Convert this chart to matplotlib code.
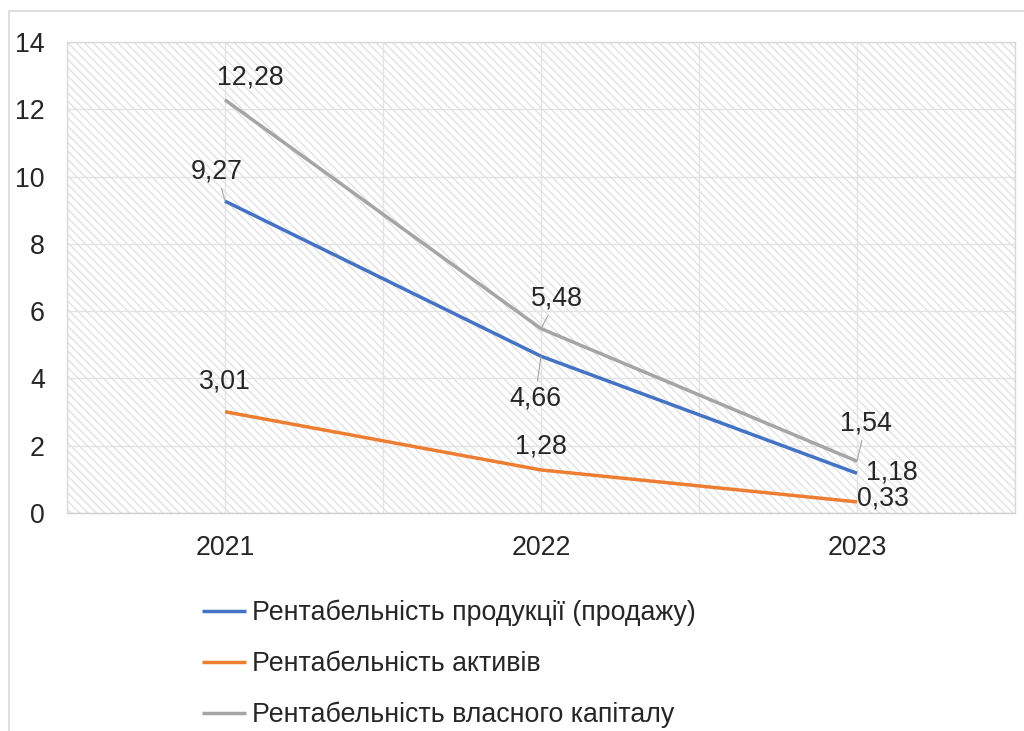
import matplotlib
matplotlib.use("Agg")
import matplotlib.pyplot as plt
from matplotlib.patches import Rectangle

plt.rcParams['font.family'] = ['Liberation Sans', 'DejaVu Sans']

years = ['2021', '2022', '2023']
sales = [9.27, 4.66, 1.18]
assets = [3.01, 1.28, 0.33]
equity = [12.28, 5.48, 1.54]
names = ['Рентабельність продукції (продажу)',
         'Рентабельність активів',
         'Рентабельність власного капіталу']
colors = ['#4472C4', '#ED7D31', '#A5A5A5']
yticks = [0, 2, 4, 6, 8, 10, 12, 14]

W, H = 1024, 731
fig = plt.figure(figsize=(W / 100, H / 100), dpi=100)
txt = '#262626'
grid = '#d9d9d9'
fs = 19.3

# outer chart border
fig.patches.append(Rectangle((9 / W, -0.05), 1.2, (H - 11) / H + 0.05,
                             transform=fig.transFigure, fill=False,
                             edgecolor=grid, lw=1.2))

ax = fig.add_axes([67 / W, (H - 513) / H, (1015 - 67) / W, (513 - 42) / H])
ax.set_xlim(-0.5, 2.5)
ax.set_ylim(0, 14)

plt.rcParams['hatch.color'] = '#dcdcdc'
plt.rcParams['hatch.linewidth'] = 0.8
ax.add_patch(Rectangle((0, 0), 1, 1, transform=ax.transAxes, facecolor='white',
                       edgecolor='#dcdcdc', hatch='\\\\\\\\', lw=0, zorder=0))

for y in yticks:
    ax.axhline(y, color='#e3e3e3', lw=1.0, zorder=1)
for xv in [-0.5, 0, 0.5, 1, 1.5, 2, 2.5]:
    ax.axvline(xv, color='#e3e3e3', lw=1.0, zorder=1)

xs = list(range(len(years)))
series = [sales, assets, equity]
lines = []
for vals, name, c in zip(series, names, colors):
    ln, = ax.plot(xs, vals, color=c, lw=2.5, label=name, zorder=3,
                  solid_capstyle='butt')
    lines.append(ln)

def fmt(v):
    return f'{v:.2f}'.replace('.', ',')

# (series index, point index, dx px, dy px, leader)
labels = [
    (2, 0, 25, 22, False),
    (0, 0, -8, 30, True),
    (2, 1, 16, 30, True),
    (0, 1, -6, -42, True),
    (1, 0, 0, 30, False),
    (1, 1, 0, 23, False),
    (2, 2, 9, 38, True),
    (0, 2, 35, 1, False),
    (1, 2, 26, 3, False),
]
for si, pi, dx, dy, lead in labels:
    v = series[si][pi]
    kw = {}
    if lead:
        kw['arrowprops'] = dict(arrowstyle='-', color='#a6a6a6', lw=0.8,
                                shrinkA=1, shrinkB=0)
    ax.annotate(fmt(v), (pi, v), xytext=(dx, dy), textcoords='offset pixels',
                ha='center', va='center', fontsize=fs, color=txt, zorder=5, **kw)

ax.set_xticks(xs)
ax.set_xticklabels(years)
ax.set_yticks(yticks)
ax.tick_params(axis='both', length=0, labelsize=fs, colors=txt)
ax.tick_params(axis='y', pad=16)
ax.tick_params(axis='x', pad=16)
for s in ax.spines.values():
    s.set_color(grid)
    s.set_linewidth(1.0)
ax.spines['bottom'].set_color('#d0d0d0')

fig.legend(handles=lines, labels=names, loc='upper left',
           bbox_to_anchor=(202 / W, (H - 600) / H), frameon=False,
           fontsize=fs, handlelength=1.65, handletextpad=0.2,
           labelspacing=0.92, borderpad=0, borderaxespad=0, labelcolor=txt)

fig.savefig('out.png', dpi=100)
